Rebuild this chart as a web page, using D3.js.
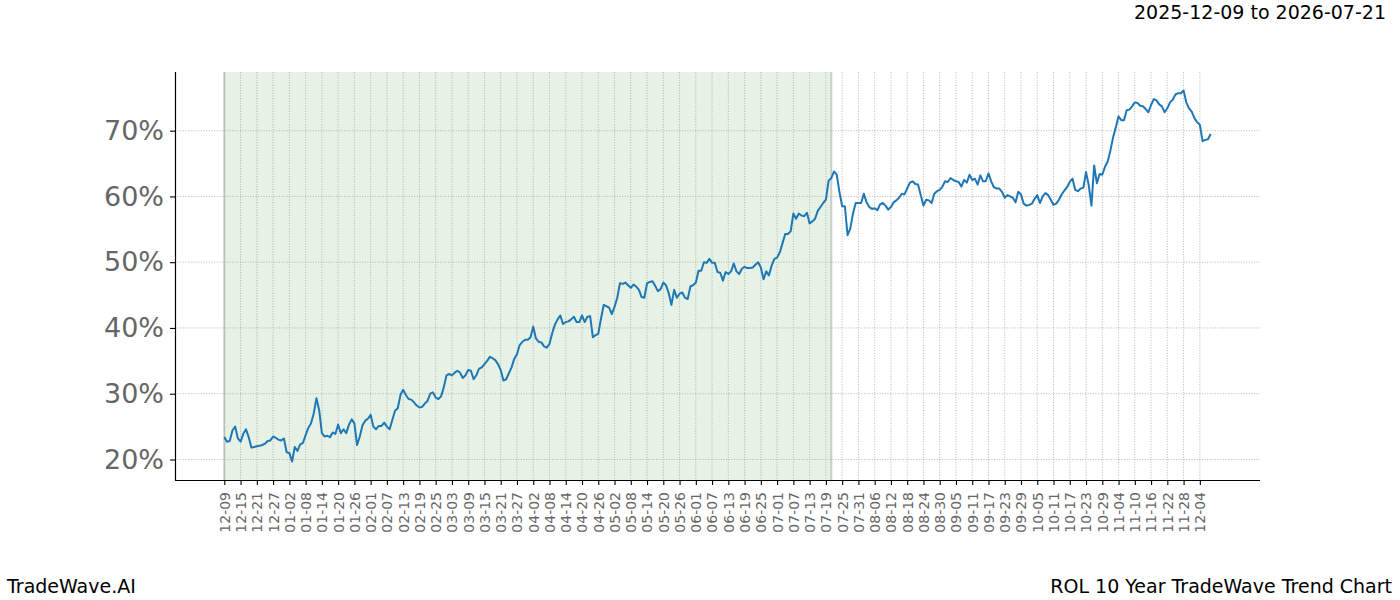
<!DOCTYPE html>
<html>
<head>
<meta charset="utf-8">
<script src="https://cdn.jsdelivr.net/npm/d3@7"></script>
<style>
  html, body { margin: 0; padding: 0; background: #fff; }
  svg { display: block; font-family: "DejaVu Sans", sans-serif; }
</style>
</head>
<body>
<svg id="chart" width="1400" height="600"></svg>
<script>
// ---- data ----
const startDate = "2025-12-09";
const spanStart = "2025-12-09";
const spanEnd = "2026-07-21";
const titleText = "2025-12-09 to 2026-07-21";
const footerLeft = "TradeWave.AI";
const footerRight = "ROL 10 Year TradeWave Trend Chart";
const yTicks = [20, 30, 40, 50, 60, 70];

const valuesDec = [
  23.4, 22.7, 22.8, 24.4, 25.0, 23.2, 22.7, 23.9, 24.6, 23.4,
  21.8, 21.9, 22.0, 22.1, 22.2, 22.4, 22.8, 22.9, 23.5, 23.3,
  23.0, 22.9, 23.2, 21.1, 21.0, 19.7, 21.9, 21.3, 22.3, 22.5,
  23.7, 24.8, 25.5, 27.0, 29.3, 27.5, 24.0, 23.5, 23.6, 23.4,
  24.1, 23.9, 25.3, 24.0, 24.6, 24.0, 25.3, 26.1, 25.5, 22.2,
  23.5, 25.2, 25.9, 26.2, 26.8
];
const valuesFeb = [
  25.0, 24.6, 25.1, 25.1, 25.6,
  25.0, 24.6, 26.0, 27.4, 27.8, 29.8, 30.6, 29.8, 29.2, 29.1,
  28.7, 28.2, 27.9, 28.0, 28.5, 28.9, 30.0, 30.2, 29.4, 29.2,
  29.6, 31.0, 32.8, 33.0, 32.8, 33.2, 33.5, 33.2, 32.4, 32.8,
  33.6, 33.5, 32.2, 32.8, 33.8, 34.0, 34.5, 35.0, 35.6, 35.4,
  35.1, 34.5, 33.6, 32.0, 32.2, 33.1, 34.0, 35.3, 36.0, 37.4,
  37.9, 38.2, 38.2, 38.6, 40.2, 38.4, 37.9, 37.8, 37.2, 37.0,
  37.6, 39.2, 40.5, 41.3
];
const valuesApr = [
  41.9, 40.6, 40.9, 41.0, 41.3, 41.7,
  40.9, 40.9, 41.9, 40.9, 41.7, 41.8, 38.6, 38.9, 39.1, 41.4,
  43.5, 43.3, 43.1, 42.1, 43.2, 44.6, 46.8, 46.7, 46.9, 46.5,
  46.1, 46.6, 46.3, 45.8, 44.7, 44.6, 46.8, 47.0, 47.1, 46.4,
  45.6, 45.9, 46.9, 46.5, 45.3, 43.5, 45.8, 44.6, 45.2, 45.4,
  44.6, 44.4, 46.3, 46.5, 46.9, 48.7, 48.7, 50.0, 49.9, 50.5,
  49.9, 49.9, 48.5, 48.4, 47.2, 48.5, 48.2, 48.6, 49.8, 48.6,
  48.2
];
const valuesJun = [
  49.0, 49.3, 49.1, 49.1, 49.2, 49.6, 50.0, 49.2, 47.4,
  48.6, 48.0, 49.5, 50.5, 50.7, 51.5, 52.9, 54.3, 54.3, 54.7,
  57.4, 56.6, 57.4, 57.1, 57.0, 57.5, 55.9, 56.2, 56.6, 57.8,
  58.4, 59.0, 59.5, 62.4, 62.8, 63.8, 63.3, 60.7, 58.5, 58.5,
  54.1, 55.1, 57.4, 59.0, 59.0, 59.0, 60.4, 59.1, 58.4, 58.1,
  58.2, 57.9, 58.8, 59.0, 58.6, 58.0, 58.4, 59.1, 59.4, 59.8,
  60.4, 60.3, 61.2, 62.1, 62.3, 61.9, 61.8, 60.2
];
const valuesAug = [
  58.6, 59.5,
  59.4, 59.0, 60.4, 60.8, 61.0, 61.5, 62.3, 62.2, 62.8, 62.5,
  62.3, 62.2, 61.5, 62.5, 62.1, 63.3, 62.5, 62.7, 61.8, 63.2,
  62.3, 62.3, 63.5, 62.3, 61.4, 61.2, 61.2, 60.7, 59.8, 60.2,
  60.0, 59.8, 59.1, 60.7, 60.3, 58.9, 58.6, 58.7, 58.9, 59.6,
  60.2, 59.0, 60.0, 60.5, 60.2, 59.5, 58.7, 58.9, 59.5, 60.3,
  60.9, 61.4, 62.2, 62.7, 61.0, 60.8, 61.2, 61.3, 63.7, 61.7,
  58.6, 64.7, 62.0, 63.4
];
const valuesOct = [
  63.3, 64.5, 65.3, 67.0, 69.0, 70.5,
  72.2, 71.6, 71.6, 73.1, 73.2, 73.7, 74.3, 74.2, 73.8, 73.7,
  73.3, 72.8, 73.9, 74.8, 74.6, 74.0, 73.7, 72.8, 73.4, 74.3,
  74.7, 75.5, 75.7, 75.7, 76.1, 74.3, 73.4, 72.9, 71.9, 71.3,
  70.9, 68.4, 68.6, 68.7, 69.5
];

(function () {
const values = [].concat(valuesDec, valuesFeb, valuesApr, valuesJun, valuesAug, valuesOct);
const parse = d3.utcParse("%Y-%m-%d");
const t0 = parse(startDate);
const data = values.map((v, i) => ({ date: d3.utcDay.offset(t0, i), value: v }));

// ---- layout ----
const svg = d3.select("#chart");
const mLeft = 175, mRight = 1260, mTop = 72, mBottom = 480;
const first = data[0].date, last = data[data.length - 1].date;
const spanMs = last - first;
const pad = spanMs * 0.05;

const x = d3.scaleUtc()
  .domain([new Date(+first - pad), new Date(+last + pad)])
  .range([mLeft, mRight]);
const yMin = d3.min(values), yMax = d3.max(values), yPad = (yMax - yMin) * 0.05;
const y = d3.scaleLinear()
  .domain([yMin - yPad, yMax + yPad])
  .range([mBottom, mTop]);

const xTicks = d3.utcDay.range(first, d3.utcDay.offset(last, 1), 1)
  .filter((d, i) => i % 6 === 0);
const fmt = d3.utcFormat("%m-%d");

// shaded span
const s0 = x(parse(spanStart)), s1 = x(parse(spanEnd));
svg.append("rect")
  .attr("x", s0).attr("y", mTop)
  .attr("width", s1 - s0).attr("height", mBottom - mTop)
  .attr("fill", "rgb(230,242,230)");
[s0, s1].forEach(px => {
  svg.append("line")
    .attr("x1", px).attr("x2", px).attr("y1", mTop).attr("y2", mBottom)
    .attr("stroke", "rgba(150,150,150,0.45)").attr("stroke-width", 2);
});

// grid
const grid = svg.append("g");
grid.selectAll(".vg").data(xTicks).join("line")
  .attr("x1", d => x(d)).attr("x2", d => x(d))
  .attr("y1", mTop).attr("y2", mBottom)
  .attr("stroke", "#999").attr("stroke-width", 0.7)
  .attr("stroke-dasharray", "1,1.6");
grid.selectAll(".hg").data(yTicks).join("line")
  .attr("x1", mLeft).attr("x2", mRight)
  .attr("y1", d => y(d)).attr("y2", d => y(d))
  .attr("stroke", "#999").attr("stroke-width", 0.7)
  .attr("stroke-dasharray", "1,1.6");

// line
const line = d3.line().x(d => x(d.date)).y(d => y(d.value));
svg.append("path").datum(data)
  .attr("d", line)
  .attr("fill", "none")
  .attr("stroke", "#1f77b4")
  .attr("stroke-width", 2)
  .attr("stroke-linejoin", "round");

// axes
const xAxis = d3.axisBottom(x).tickValues(xTicks).tickFormat(fmt).tickSize(5).tickPadding(3);
const gx = svg.append("g").attr("transform", `translate(0,${mBottom})`).call(xAxis);
gx.select(".domain").attr("stroke", "#000").attr("stroke-width", 1.2)
  .attr("d", `M${mLeft},0.5H${mRight}`);
gx.selectAll(".tick line").attr("stroke", "#000").attr("stroke-width", 1.1);
gx.selectAll(".tick text")
  .attr("fill", "#666")
  .attr("font-size", 14)
  .attr("font-family", "DejaVu Sans")
  .attr("transform", "rotate(-90)")
  .attr("text-anchor", "end")
  .attr("x", -12).attr("y", 0).attr("dy", "0.35em");

const yAxis = d3.axisLeft(y).tickValues(yTicks).tickFormat(d => d + "%").tickSize(5).tickPadding(6);
const gy = svg.append("g").attr("transform", `translate(${mLeft},0)`).call(yAxis);
gy.select(".domain").attr("stroke", "#000").attr("stroke-width", 1.2)
  .attr("d", `M0.5,${mTop}V${mBottom}`);
gy.selectAll(".tick line").attr("stroke", "#000").attr("stroke-width", 1.1);
gy.selectAll(".tick text")
  .attr("fill", "#666")
  .attr("font-size", 27)
  .attr("font-family", "DejaVu Sans");

// texts
svg.append("text").attr("x", 1386).attr("y", 19)
  .attr("text-anchor", "end").attr("font-size", 19).attr("fill", "#000")
  .text(titleText);
svg.append("text").attr("x", 7).attr("y", 593)
  .attr("font-size", 19).attr("fill", "#000")
  .text(footerLeft);
svg.append("text").attr("x", 1392).attr("y", 593)
  .attr("text-anchor", "end").attr("font-size", 19).attr("fill", "#000")
  .text(footerRight);
})();
</script>
</body>
</html>
